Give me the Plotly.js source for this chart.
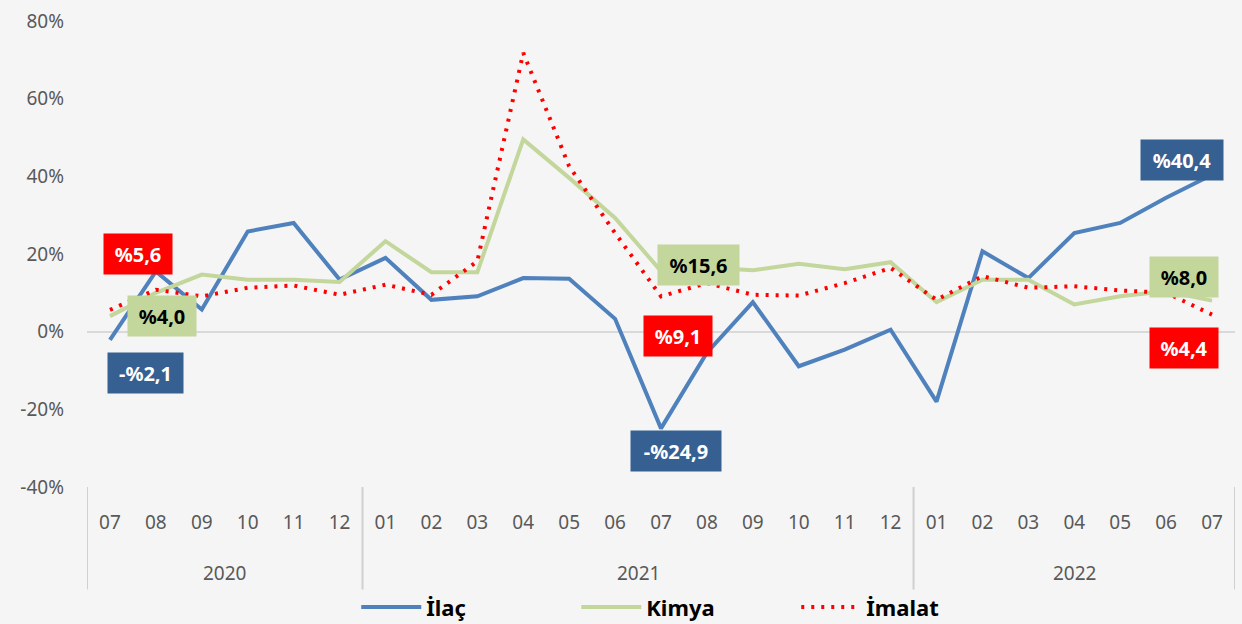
<!DOCTYPE html>
<html>
<head>
<meta charset="utf-8">
<script src="https://cdn.plot.ly/plotly-3.0.1.min.js"></script>
<style>
html,body{margin:0;padding:0;background:#f5f5f5;}
#chart{width:1242px;height:624px;}
</style>
</head>
<body>
<div id="chart"></div>
<script>
// Categories
const years  = ['2020','2020','2020','2020','2020','2020',
                '2021','2021','2021','2021','2021','2021','2021','2021','2021','2021','2021','2021',
                '2022','2022','2022','2022','2022','2022','2022'];
const months = ['07','08','09','10','11','12',
                '01','02','03','04','05','06','07','08','09','10','11','12',
                '01','02','03','04','05','06','07'];

// Series values (%)
const ilac   = [-2.1, 15.5, 5.7, 25.8, 28.0, 13.4, 19.0, 8.2, 9.1, 13.8, 13.6, 3.3, -24.9, -5.4, 7.6, -8.9, -4.6, 0.5, -18.0, 20.7, 13.8, 25.4, 28.0, 34.5, 40.4];
const kimya  = [4.0, 10.0, 14.7, 13.4, 13.4, 12.8, 23.3, 15.3, 15.3, 49.5, 39.6, 29.3, 15.6, 16.5, 15.8, 17.5, 16.1, 17.9, 7.6, 13.4, 13.4, 7.0, 9.1, 10.4, 8.0];
const imalat = [5.6, 10.8, 9.1, 11.3, 11.9, 9.5, 12.1, 9.5, 18.1, 71.8, 42.6, 25.4, 9.1, 12.5, 9.5, 9.3, 12.5, 16.4, 8.2, 14.3, 11.3, 11.7, 10.6, 10.0, 4.4];

const yTicks = [-40, -20, 0, 20, 40, 60, 80];
const yTickText = ['-40%', '-20%', '0%', '20%', '40%', '60%', '80%'];
const seriesNames = ['İlaç', 'Kimya', 'İmalat'];

// Labelled points (indices)
const labelIdx = [0, 12, 24];

const C_BLUE = '#4F81BD', C_BLUE_D = '#376092', C_GREEN = '#C3D69B', C_RED = '#FF0000';
const FONT = '"Noto Sans", "Open Sans", sans-serif';

const cats = years.map((y, i) => y + '-' + months[i]);

function fmt(v){
  return (v < 0 ? '-' : '') + '%' + Math.abs(v).toFixed(1).replace('.', ',');
}

const traces = [
  {x:cats, y:ilac, name:seriesNames[0], type:'scatter', mode:'lines',
   line:{color:C_BLUE, width:4}},
  {x:cats, y:kimya, name:seriesNames[1], type:'scatter', mode:'lines',
   line:{color:C_GREEN, width:4}},
  {x:cats, y:imalat, name:seriesNames[2], type:'scatter', mode:'lines',
   line:{color:C_RED, width:4, dash:'3px,7px'}}
];

const annStyle = [
  {bg:C_BLUE_D, fc:'#ffffff', shifts:[[36,-33,75],[15,-23,90],[-30,15,82]], data:ilac},
  {bg:C_GREEN,  fc:'#000000', shifts:[[52,0,68],[37,6,81],[-28,24,68]],     data:kimya},
  {bg:C_RED,    fc:'#ffffff', shifts:[[28,56,68],[17,-40,68],[-28,-33,68]], data:imalat}
];
const annotations = [];
annStyle.forEach(s => {
  labelIdx.forEach((idx, k) => {
    const sh = s.shifts[k];
    annotations.push({
      xref:'x', yref:'y', x: cats[idx], y: s.data[idx],
      text: fmt(s.data[idx]), showarrow:false,
      xshift: sh[0], yshift: sh[1],
      width: sh[2], height: 40, borderpad: 0,
      bgcolor: s.bg, font:{family:FONT, size:20, color:s.fc, weight:'bold'}
    });
  });
});

// Year group labels and dividers
const shapes = [];
const uniqYears = [...new Set(years)];
const bounds = [];
uniqYears.forEach(yr => {
  const first = years.indexOf(yr), last = years.lastIndexOf(yr);
  annotations.push({xref:'x', yref:'paper', x:(first + last) / 2, y:-0.1845, yanchor:'middle',
    text: yr, showarrow:false, font:{family:FONT, size:19, color:'#595959'}});
  bounds.push(first - 0.5);
  if (yr === uniqYears[uniqYears.length - 1]) bounds.push(last + 0.5);
});
bounds.forEach(b => shapes.push({type:'line', xref:'x', yref:'paper', x0:b, x1:b, y0:0, y1:-0.22,
  line:{color:'#d0d0d0', width:2}}));

const layout = {
  width:1242, height:624,
  paper_bgcolor:'#f5f5f5', plot_bgcolor:'#f5f5f5',
  margin:{l:87, r:7, t:21, b:137, autoexpand:false},
  showlegend:true,
  legend:{orientation:'h', x:0.522, xanchor:'center', yref:'container', y:0.027, yanchor:'middle',
          font:{family:FONT, size:22, color:'#000000', weight:'bold'},
          itemwidth:60, entrywidth:145, bgcolor:'rgba(0,0,0,0)'},
  xaxis:{type:'category', range:[-0.5, cats.length - 0.5], tickvals:cats, ticktext:months,
         showgrid:false, zeroline:false, showline:false, ticks:'', ticklabelstandoff:22,
         tickfont:{family:FONT, size:19, color:'#595959'}},
  yaxis:{range:[-40, 80], tickvals:yTicks, ticktext:yTickText, showgrid:false,
         zeroline:true, zerolinecolor:'#d9d9d9', zerolinewidth:2, showline:false,
         ticklabelstandoff:22,
         tickfont:{family:FONT, size:19, color:'#595959'}},
  annotations: annotations,
  shapes: shapes
};

Plotly.newPlot('chart', traces, layout, {displayModeBar:false, staticPlot:true});
</script>
</body>
</html>
